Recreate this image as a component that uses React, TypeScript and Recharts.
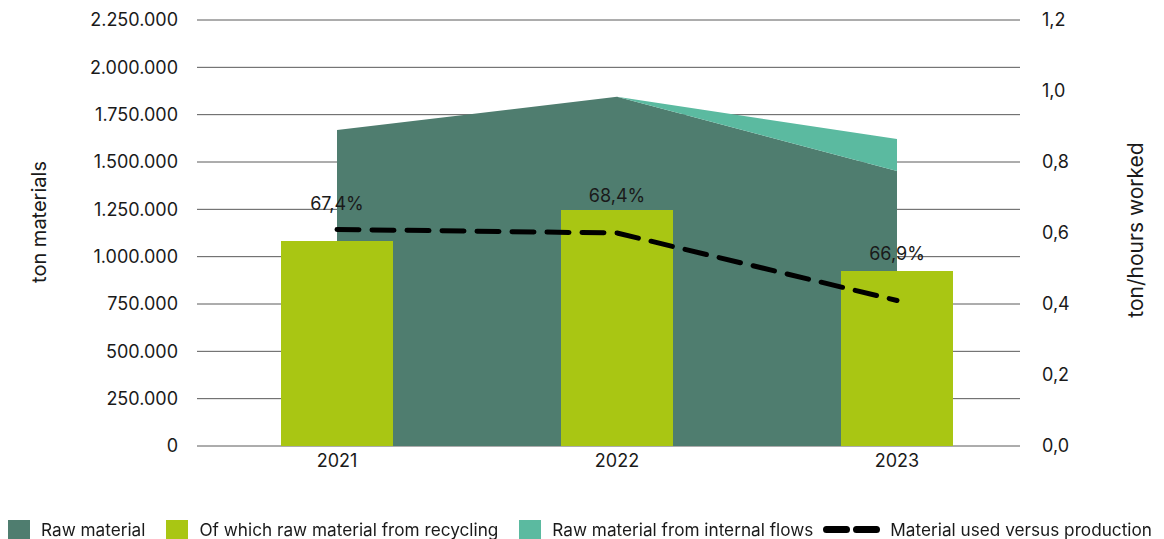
import React from "react";
import {
  ComposedChart,
  Area,
  Bar,
  Line,
  XAxis,
  YAxis,
  CartesianGrid,
  LabelList,
} from "recharts";

// Material consumption per year
const years = ["2021", "2022", "2023"];
const rawMaterial = [1669000, 1845000, 1452000];
const internalFlows = [0, 0, 169000];
const recycledMaterial = [1083000, 1246000, 924000];
const recycledShare = ["67,4%", "68,4%", "66,9%"];
const usedVsProduction = [0.61, 0.6, 0.41];

const tonTicks = [0, 250000, 500000, 750000, 1000000, 1250000, 1500000, 1750000, 2000000, 2250000];
const ratioTicks = [0, 0.2, 0.4, 0.6, 0.8, 1.0, 1.2];

const data = years.map((year, i) => ({
  year,
  raw: rawMaterial[i],
  internal: internalFlows[i],
  recycled: recycledMaterial[i],
  share: recycledShare[i],
  ratio: usedVsProduction[i],
}));

const FONT = "Inter, 'Noto Sans', sans-serif";
const DARK = "#4f7d6f";
const TEAL = "#5bbaa0";
const LIME = "#a9c613";
const TEXT = "#1a1a1a";

// how far each percentage label sits above its bar (keeps 2021 clear of the dashed line)
const labelLift = [37, 15, 18];

const fmtTon = (v: number) => String(v).replace(/\B(?=(\d{3})+(?!\d))/g, ".");
const fmtRatio = (v: number) => v.toFixed(1).replace(".", ",");

const ShareLabel = (props: any) => {
  const { x, y, width, value } = props;
  const idx = props.index ?? recycledShare.indexOf(value);
  return (
    <text
      x={Number(x) + Number(width) / 2}
      y={Number(y) - labelLift[idx]}
      textAnchor="middle"
      dominantBaseline="central"
      fontSize={18}
      fontFamily={FONT}
      fill={TEXT}
    >
      {value}
    </text>
  );
};

const axisTitle = (text: string, dx: number, dy: number, size: number) => (props: any) => {
  const vb = props.viewBox;
  const cx = vb.x + dx;
  const cy = vb.y + vb.height / 2 + dy;
  return (
    <text
      x={cx}
      y={cy}
      transform={`rotate(-90 ${cx} ${cy})`}
      textAnchor="middle"
      dominantBaseline="central"
      fontSize={size}
      fontFamily={FONT}
      fill={TEXT}
    >
      {text}
    </text>
  );
};

const legendItems = [
  { label: "Raw material", color: DARK, kind: "box" },
  { label: "Of which raw material from recycling", color: LIME, kind: "box" },
  { label: "Raw material from internal flows", color: TEAL, kind: "box" },
  { label: "Material used versus production", color: "#000", kind: "dash" },
];

function ChartLegend() {
  return (
    <div
      style={{
        position: "absolute",
        left: 8,
        top: 520,
        height: 19,
        display: "flex",
        alignItems: "center",
        fontFamily: FONT,
        fontSize: 17.2,
        color: TEXT,
        whiteSpace: "nowrap",
      }}
    >
      {legendItems.map((item) => (
        <div key={item.label} style={{ display: "flex", alignItems: "center", marginRight: 21 }}>
          {item.kind === "box" ? (
            <span style={{ width: 22, height: 19, background: item.color, marginRight: 11 }} />
          ) : (
            <svg width={57} height={19} style={{ marginRight: 10, marginLeft: -11 }}>
              <line
                x1={3.5}
                y1={9.5}
                x2={53.5}
                y2={9.5}
                stroke={item.color}
                strokeWidth={7}
                strokeLinecap="round"
                strokeDasharray="20 10"
              />
            </svg>
          )}
          <span>{item.label}</span>
        </div>
      ))}
    </div>
  );
}

export default function App() {
  return (
    <div style={{ position: "fixed", left: 0, top: 0, width: 1164, height: 539, background: "#fff" }}>
      <ComposedChart
        width={1164}
        height={539}
        data={data}
        margin={{ top: 20, right: 0, bottom: 63, left: 0 }}
        barCategoryGap="30%"
      >
        <CartesianGrid vertical={false} stroke="#5a5a5a" strokeWidth={1} yAxisId="ton" />
        <XAxis
          dataKey="year"
          height={30}
          axisLine={false}
          tickLine={false}
          padding={{ left: 0, right: -17 }}
          tick={{ fontSize: 18, fontFamily: FONT, fill: TEXT }}
        />
        <YAxis
          yAxisId="ton"
          width={197}
          domain={[0, 2250000]}
          ticks={tonTicks}
          tickFormatter={fmtTon}
          axisLine={false}
          tickLine={false}
          tickMargin={13}
          tick={{ fontSize: 18, fontFamily: FONT, fill: TEXT }}
          label={{ content: axisTitle("ton materials", 39, -11, 20) }}
        />
        <YAxis
          yAxisId="ratio"
          orientation="right"
          width={144}
          domain={[0, 1.2]}
          ticks={ratioTicks}
          tickFormatter={fmtRatio}
          axisLine={false}
          tickLine={false}
          tickMargin={16}
          tick={{ fontSize: 18, fontFamily: FONT, fill: TEXT, textAnchor: "start" }}
          label={{ content: axisTitle("ton/hours worked", 115, -3, 21) }}
        />
        <Area
          yAxisId="ton"
          dataKey="raw"
          stackId="total"
          type="linear"
          fill={DARK}
          fillOpacity={1}
          stroke="none"
          isAnimationActive={false}
        />
        <Area
          yAxisId="ton"
          dataKey="internal"
          stackId="total"
          type="linear"
          fill={TEAL}
          fillOpacity={1}
          stroke="none"
          isAnimationActive={false}
        />
        <Bar yAxisId="ton" dataKey="recycled" fill={LIME} barSize={112} isAnimationActive={false}>
          <LabelList dataKey="share" content={ShareLabel} />
        </Bar>
        <Line
          yAxisId="ratio"
          dataKey="ratio"
          type="linear"
          stroke="#000"
          strokeWidth={5}
          strokeDasharray="22 13"
          strokeLinecap="round"
          strokeLinejoin="round"
          dot={false}
          activeDot={false}
          isAnimationActive={false}
        />
      </ComposedChart>
      <ChartLegend />
    </div>
  );
}
